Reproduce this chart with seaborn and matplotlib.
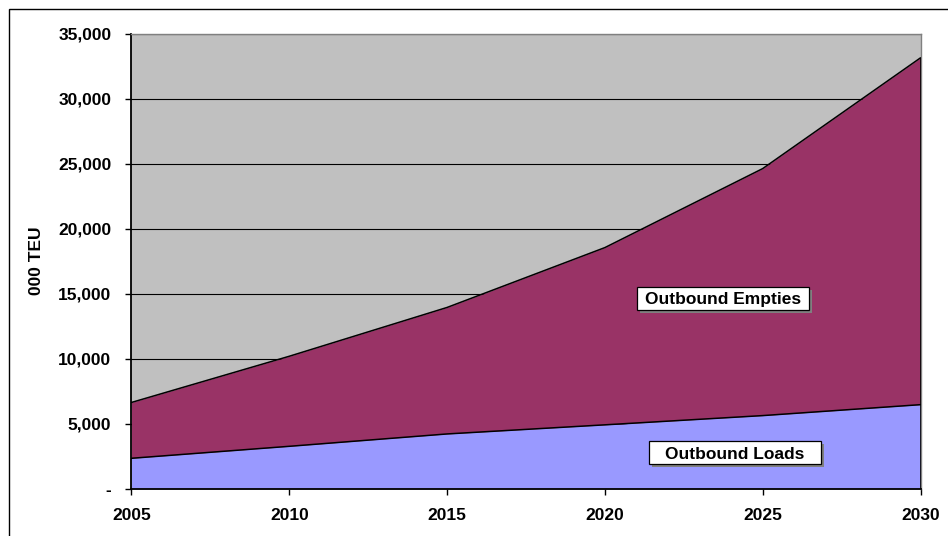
import matplotlib
matplotlib.use("Agg")
import matplotlib.pyplot as plt
from matplotlib.patches import Rectangle
from matplotlib.transforms import IdentityTransform
import seaborn as sns
import pandas as pd

# Outbound container volumes (thousand TEU)
years = [2005, 2010, 2015, 2020, 2025, 2030]
outbound_loads = [2360, 3280, 4230, 4930, 5640, 6480]
outbound_total = [6650, 10200, 13950, 18550, 24620, 33130]
y_ticks = [0, 5000, 10000, 15000, 20000, 25000, 30000, 35000]
y_tick_labels = ["-", "5,000", "10,000", "15,000", "20,000", "25,000", "30,000", "35,000"]

df = pd.DataFrame({"year": years, "loads": outbound_loads, "total": outbound_total})

sns.set_style("white")
plt.rcParams["font.family"] = ["Liberation Sans", "DejaVu Sans"]
plt.rcParams.update({"text.color": "black", "axes.labelcolor": "black",
                     "xtick.color": "black", "ytick.color": "black"})

FS = 12.5

fig = plt.figure(figsize=(9.48, 5.36), dpi=100)
ax = fig.add_axes([0.1387, 0.0877, 0.8323, 0.8498])
ax.set_facecolor("#C0C0C0")

# stacked areas
ax.fill_between(df["year"], 0, df["loads"], color="#9999FF", linewidth=0, zorder=2)
ax.fill_between(df["year"], df["loads"], df["total"], color="#993366", linewidth=0, zorder=2)
sns.lineplot(data=df, x="year", y="loads", color="black", linewidth=1.1, ax=ax, zorder=3)
sns.lineplot(data=df, x="year", y="total", color="black", linewidth=1.1, ax=ax, zorder=3)
ax.vlines(years[-1], 0, outbound_total[-1], color="black", linewidth=1.2, zorder=4)

ax.set_xlim(2005, 2030)
ax.set_ylim(0, 35000)
ax.set_xticks(years)
ax.set_xticklabels([str(y) for y in years], fontsize=FS, fontweight="bold")
ax.set_yticks(y_ticks)
ax.set_yticklabels(y_tick_labels, fontsize=FS, fontweight="bold")
ax.yaxis.grid(True, color="black", linewidth=0.8, zorder=1)
ax.set_axisbelow(True)
ax.tick_params(axis="both", direction="out", length=4.5, width=1, color="black",
               left=True, bottom=True)
ax.tick_params(axis="y", pad=10)
ax.tick_params(axis="x", pad=9)
ax.set_xlabel("")
ax.set_ylabel("000 TEU", fontsize=FS, fontweight="bold", labelpad=10)

for side in ["left", "bottom"]:
    ax.spines[side].set_color("black")
    ax.spines[side].set_linewidth(1.3)
for side in ["top", "right"]:
    ax.spines[side].set_color("#808080")
    ax.spines[side].set_linewidth(1.0)

# series labels in fixed-size boxes with a drop shadow
BOX_W, BOX_H, SHADOW = 172, 23, 3
series_labels = [("Outbound Empties", 2023.74, 14650), ("Outbound Loads", 2024.12, 2770)]
for txt, x, y in series_labels:
    cx, cy = ax.transData.transform((x, y))
    x0, y0 = cx - BOX_W / 2, cy - BOX_H / 2
    ax.add_patch(Rectangle((x0 + SHADOW, y0 - SHADOW), BOX_W, BOX_H, transform=IdentityTransform(),
                           facecolor="#808080", edgecolor="none", zorder=5))
    ax.add_patch(Rectangle((x0, y0), BOX_W, BOX_H, transform=IdentityTransform(),
                           facecolor="white", edgecolor="black", linewidth=0.9, zorder=6))
    ax.text(x, y, txt, fontsize=FS, fontweight="bold", ha="center", va="center_baseline",
            zorder=7)

# outer chart frame
fig.patches.append(Rectangle((9 / 948, -0.1), 1.2, 1 - 9 / 536 + 0.1, transform=fig.transFigure,
                             fill=False, edgecolor="black", linewidth=1.0, zorder=0))

fig.savefig("out.png", dpi=100)
